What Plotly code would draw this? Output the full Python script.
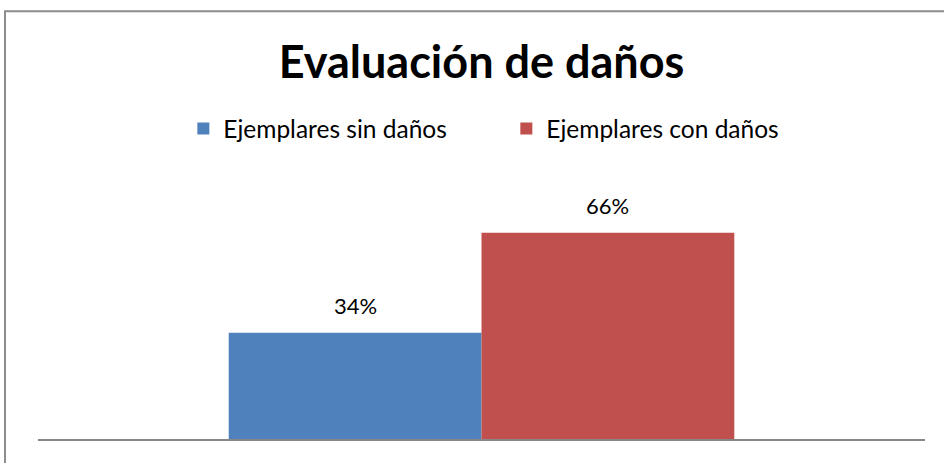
import plotly.graph_objects as go

# data
series_names = ['Ejemplares sin daños', 'Ejemplares con daños']
series_values = [0.34, 0.66]
series_colors = ['#4F81BD', '#C0504D']
category = ['Evaluación']

BAR_GAP = 0.43
PLOT_W = 944 - 38 - 19
bar_px = PLOT_W * (1 - BAR_GAP) / len(series_values)

fig = go.Figure()
for i, (name, val, col) in enumerate(zip(series_names, series_values, series_colors)):
    fig.add_trace(go.Bar(
        x=category,
        y=[val],
        name=name,
        marker=dict(color=col, line=dict(width=0)),
        hoverinfo='name+y',
    ))
    # data label sitting above the bar, like the Excel original
    fig.add_annotation(
        x=category[0], y=val, xref='x', yref='y',
        text=f'{val:.0%}', showarrow=False,
        xshift=(i - (len(series_values) - 1) / 2) * bar_px,
        yshift=27, yanchor='middle',
        font=dict(size=22, family='Lato', color='black'),
    )

fig.update_layout(
    width=944,
    height=463,
    margin=dict(l=38, r=19, t=189, b=24),
    paper_bgcolor='white',
    plot_bgcolor='white',
    barmode='group',
    bargap=BAR_GAP,
    bargroupgap=0,
    font=dict(family='Lato', color='black'),
    title=dict(
        text='<b>Evaluación de daños</b>',
        xref='paper', x=0.5, xanchor='center',
        y=0.866, yanchor='middle',
        font=dict(size=45, family='Lato', color='black'),
    ),
    legend=dict(
        orientation='h',
        x=0.528, xanchor='center',
        y=1.242, yanchor='middle',
        font=dict(size=24.5, family='Lato', color='black'),
        entrywidth=278,
        itemwidth=30,
        traceorder='normal',
    ),
    showlegend=True,
)

fig.update_xaxes(showline=True, linecolor='#868686', linewidth=2,
                 showticklabels=False, ticks='', showgrid=False, zeroline=False)
fig.update_yaxes(range=[0, 0.8], visible=False, showgrid=False, zeroline=False)

# chart border (open on the right and bottom, as in the cropped original)
fig.add_shape(type='rect', xref='paper', yref='paper',
              x0=-0.0372, x1=1.1, y0=-0.3, y1=1.711,
              line=dict(color='#8C8C8C', width=2), layer='below')

fig.write_html("out.html", config={'displayModeBar': False},
               post_script="document.body.style.margin='0';")
